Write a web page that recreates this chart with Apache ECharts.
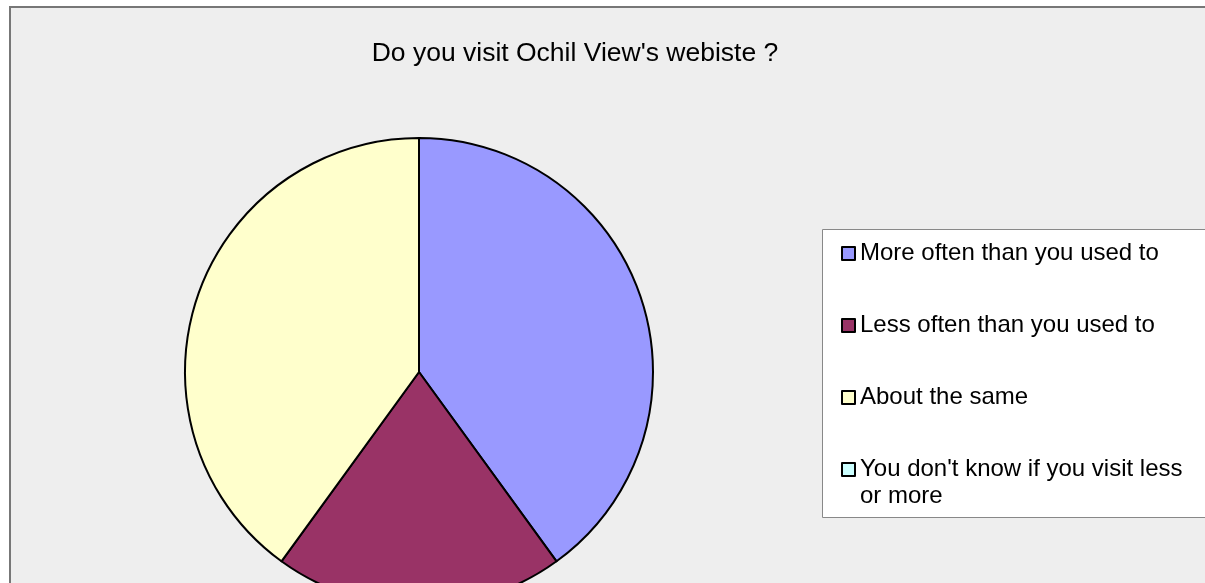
<!DOCTYPE html>
<html>
<head>
<meta charset="utf-8">
<script src="https://cdn.jsdelivr.net/npm/echarts@6/dist/echarts.min.js"></script>
<style>
  html, body { margin: 0; padding: 0; background: #fff; }
  #mainChart { width: 1205px; height: 583px; }
</style>
</head>
<body>
<div id="mainChart"></div>
<script>
// survey answers (percent of responses)
var categories = [
    'More often than you used to',
    'Less often than you used to',
    'About the same',
    "You don't know if you visit less or more"
];
var values = [40, 20, 40, 0];
var colors = ['#9999FF', '#993366', '#FFFFCC', '#CCFFFF'];

var chartDom = document.getElementById('mainChart');
var myChart = echarts.init(chartDom);

var font = "'Liberation Sans', Arial, sans-serif";

var pieData = categories.map(function (name, i) {
    var item = { name: name, value: values[i], itemStyle: { color: colors[i] } };
    if (values[i] === 0) {
        item.itemStyle.borderWidth = 0;
    }
    return item;
});

var legendData = categories.map(function (name, i) {
    return { name: name, itemStyle: { color: colors[i], borderColor: '#000', borderWidth: 2 } };
});

var option = {
    animation: false,
    backgroundColor: '#fff',
    graphic: [
        {
            type: 'rect', z: -10, silent: true,
            shape: { x: 10, y: 7, width: 1210, height: 600 },
            style: { fill: '#eeeeee', stroke: '#777', lineWidth: 2 }
        },
        {
            type: 'rect', z: -5, silent: true,
            shape: { x: 822.5, y: 229.5, width: 400, height: 288 },
            style: { fill: '#fff', stroke: '#888', lineWidth: 1 }
        }
    ],
    title: {
        text: "Do you visit Ochil View's webiste ?",
        left: 575,
        top: 40,
        textAlign: 'center',
        padding: 0,
        textStyle: { fontFamily: font, fontSize: 26.5, fontWeight: 'normal', color: '#000' }
    },
    legend: {
        orient: 'vertical',
        left: 841,
        top: 213,
        padding: 0,
        itemGap: -9,
        itemWidth: 13,
        itemHeight: 13,
        icon: 'rect',
        data: legendData,
        // three text rows per item so the icon sits on the first printed row
        formatter: function (name) {
            if (name === categories[3]) {
                return "\nYou don't know if you visit less\nor more";
            }
            return '\n' + name + '\n';
        },
        textStyle: { fontFamily: font, fontSize: 24, color: '#000', lineHeight: 27 }
    },
    series: [{
        type: 'pie',
        center: [419, 372],
        radius: 234,
        startAngle: 90,
        clockwise: true,
        stillShowZeroSum: true,
        label: { show: false },
        labelLine: { show: false },
        emphasis: { disabled: true },
        itemStyle: { borderColor: '#000', borderWidth: 2 },
        data: pieData
    }]
};

myChart.setOption(option);
</script>
</body>
</html>
